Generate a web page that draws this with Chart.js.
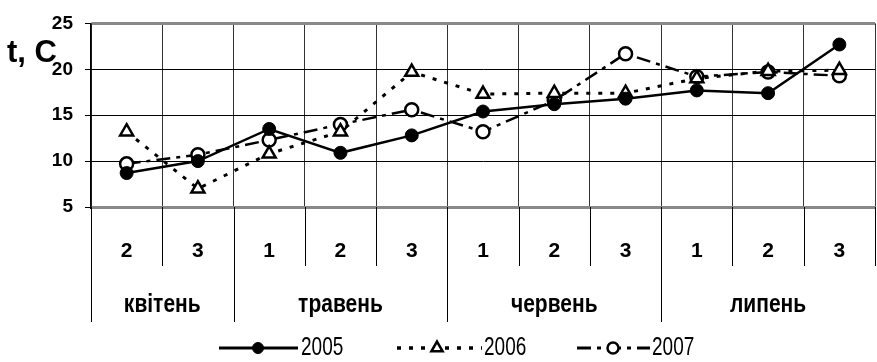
<!DOCTYPE html>
<html>
<head>
<meta charset="utf-8">
<script src="https://cdn.jsdelivr.net/npm/chart.js@4/dist/chart.umd.min.js"></script>
<style>
  html, body { margin: 0; padding: 0; background: #fff; overflow: hidden; }
  #wrap { width: 877px; height: 362px; overflow: hidden; }
  canvas { display: block; }
</style>
</head>
<body>
<div id="wrap"><canvas id="c" width="885" height="362"></canvas></div>
<script>
// ---- data ----
const decades = ["2", "3", "1", "2", "3", "1", "2", "3", "1", "2", "3"];
const months = ["квітень", "травень", "червень", "липень"];
const monthSpans = [2, 3, 3, 3];
const years = ["2005", "2006", "2007"];
const t2005 = [8.7, 10.0, 13.5, 10.9, 12.8, 15.4, 16.2, 16.8, 17.7, 17.4, 22.7];
const t2006 = [13.2, 7.0, 10.8, 13.2, 19.7, 17.3, 17.4, 17.4, 19.0, 19.8, 19.9];
const t2007 = [9.7, 10.7, 12.3, 14.0, 15.6, 13.2, 16.6, 21.7, 19.2, 19.7, 19.3];
const yTicks = [5, 10, 15, 20, 25];
const yTitle = "t, C";

const FONT = "'Liberation Sans', Arial, sans-serif";

function stretchedText(ctx, text, x, y, sy) {
  ctx.save();
  ctx.translate(x, y);
  ctx.scale(1, sy);
  ctx.fillText(text, 0, 0);
  ctx.restore();
}

const extras = {
  id: 'extras',
  afterDraw(chart) {
    const ctx = chart.ctx;
    const xs = chart.scales.x;
    const area = chart.chartArea;
    const n = decades.length;
    const half = (xs.getPixelForValue(1) - xs.getPixelForValue(0)) / 2;
    ctx.save();
    // decade separators below axis
    ctx.strokeStyle = '#000';
    ctx.lineWidth = 1;
    for (let i = 0; i <= n; i++) {
      const x = Math.round(xs.getPixelForValue(Math.min(i, n - 1)) + (i === n ? half : -half)) + 0.5;
      ctx.beginPath();
      ctx.moveTo(x, area.bottom);
      ctx.lineTo(x, 266);
      ctx.stroke();
    }
    // month separators and labels
    let idx = 0;
    ctx.font = "bold 21px " + FONT;
    ctx.fillStyle = '#000';
    ctx.textAlign = 'center';
    ctx.textBaseline = 'middle';
    for (let m = 0; m < months.length; m++) {
      const x0 = xs.getPixelForValue(idx) - half;
      const x1 = xs.getPixelForValue(idx + monthSpans[m] - 1) + half;
      ctx.beginPath();
      ctx.moveTo(Math.round(x0) + 0.5, area.bottom);
      ctx.lineTo(Math.round(x0) + 0.5, 322);
      ctx.stroke();
      stretchedText(ctx, months[m], (x0 + x1) / 2, 305, 1.2);
      idx += monthSpans[m];
    }
    // title
    ctx.font = "bold 31px " + FONT;
    ctx.textAlign = 'left';
    ctx.textBaseline = 'alphabetic';
    ctx.fillText(yTitle, 7, 62);
    // legend
    const legendItems = [
      { x0: 219, x1: 298, mx: 258, tx: 301 },
      { x0: 397, x1: 482, mx: 437, tx: 484 },
      { x0: 577, x1: 650, mx: 613, tx: 652 }
    ];
    const ly = 348;
    ctx.font = "19px " + FONT;
    chart.data.datasets.forEach((ds, i) => {
      const L = legendItems[i];
      ctx.save();
      ctx.strokeStyle = ds.borderColor;
      ctx.lineWidth = ds.borderWidth + 0.5;
      ctx.setLineDash(ds.borderDash || []);
      ctx.beginPath();
      ctx.moveTo(L.x0, ly);
      ctx.lineTo(L.x1, ly);
      ctx.stroke();
      ctx.restore();
      ctx.save();
      ctx.fillStyle = ds.pointBackgroundColor;
      ctx.strokeStyle = ds.pointBorderColor;
      ctx.lineWidth = ds.pointBorderWidth;
      Chart.helpers.drawPoint(ctx, { pointStyle: ds.pointStyle, radius: ds.pointRadius - 1, borderWidth: ds.pointBorderWidth, rotation: 0 }, L.mx, ly);
      ctx.restore();
      ctx.fillStyle = '#000';
      ctx.textAlign = 'left';
      ctx.textBaseline = 'middle';
      stretchedText(ctx, ds.label, L.tx, ly, 1.35);
    });
    ctx.restore();
  }
};

new Chart(document.getElementById('c'), {
  type: 'line',
  data: {
    labels: decades,
    datasets: [
      { label: years[0], data: t2005, borderColor: '#000', borderWidth: 2.5, pointStyle: 'circle', pointRadius: 6.5,
        pointBackgroundColor: '#000', pointBorderColor: '#000', pointBorderWidth: 1, tension: 0 },
      { label: years[1], data: t2006, borderColor: '#000', borderWidth: 3, borderDash: [4, 8], pointStyle: 'triangle', pointRadius: 7.5,
        pointBackgroundColor: '#fff', pointBorderColor: '#000', pointBorderWidth: 2.5, tension: 0 },
      { label: years[2], data: t2007, borderColor: '#000', borderWidth: 2.5, borderDash: [14, 6, 4, 6], pointStyle: 'circle', pointRadius: 6.5,
        pointBackgroundColor: '#fff', pointBorderColor: '#000', pointBorderWidth: 2.5, tension: 0 }
    ]
  },
  options: {
    responsive: false,
    devicePixelRatio: 1,
    animation: false,
    layout: { padding: { top: 19, right: 1, left: 0, bottom: 0 } },
    plugins: { legend: { display: false }, tooltip: { enabled: false } },
    scales: {
      x: {
        type: 'category',
        offset: true,
        afterFit(s) { s.height = 155; },
        grid: { offset: true, color: '#333', lineWidth: 1, drawTicks: false },
        border: { display: true, color: '#888', width: 3 },
        ticks: { color: '#000', font: { family: FONT, size: 21, weight: 'bold' }, padding: 32, maxRotation: 0, autoSkip: false }
      },
      y: {
        min: 5, max: 25,
        afterFit(s) { s.width = 91; },
        afterBuildTicks(s) { s.ticks = yTicks.map(v => ({ value: v })); },
        grid: {
          color: c => (c.tick && (c.tick.value === 25 || c.tick.value === 5)) ? '#888' : '#000',
          lineWidth: c => (c.tick && (c.tick.value === 25 || c.tick.value === 5)) ? 3 : 1,
          tickLength: 6,
          tickColor: '#000',
          tickWidth: 1
        },
        border: { display: true, color: '#000', width: 1.5 },
        ticks: { color: '#000', font: { family: FONT, size: 19, weight: 'bold' }, padding: 12 }
      }
    }
  },
  plugins: [extras]
});
</script>
</body>
</html>
